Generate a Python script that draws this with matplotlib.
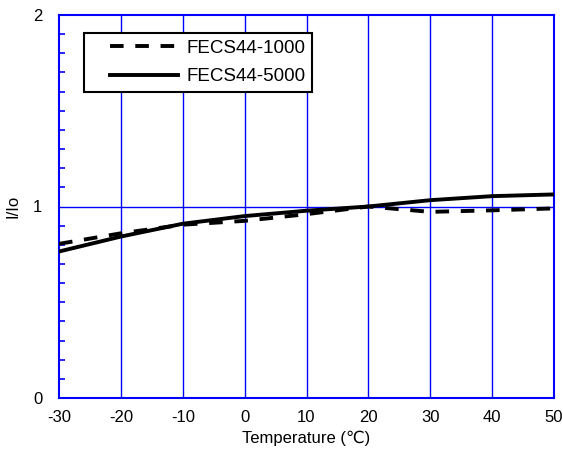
import matplotlib
matplotlib.use("Agg")
import matplotlib.pyplot as plt
from matplotlib.ticker import MultipleLocator
from matplotlib.legend_handler import HandlerLine2D
from matplotlib.lines import Line2D

plt.rcParams['font.family'] = ['Liberation Sans', 'DejaVu Sans']
plt.rcParams['axes.unicode_minus'] = False

temps = [-30, -20, -10, 0, 10, 20, 30, 40, 50]
fecs1000 = [0.805, 0.86, 0.905, 0.925, 0.96, 1.0, 0.972, 0.98, 0.99]
fecs5000 = [0.765, 0.843, 0.91, 0.95, 0.978, 1.0, 1.033, 1.054, 1.063]
xticks = [-30, -20, -10, 0, 10, 20, 30, 40, 50]
yticks = [0, 1, 2]

fig = plt.figure(figsize=(5.63, 4.55), dpi=100)
ax = fig.add_axes([59/563, 1-398/455, (554-59)/563, (398-15)/455])

blue = '#0000ff'
for x in xticks[1:-1]:
    ax.axvline(x, color=blue, lw=1.0, zorder=1)
ax.axhline(1, color=blue, lw=1.0, zorder=1)

ax.plot(temps, fecs1000, color='black', lw=2.8, ls=(0, (3.5, 3.0)), label='FECS44-1000', zorder=3)
ax.plot(temps, fecs5000, color='black', lw=2.8, ls='-', label='FECS44-5000', zorder=3)

ax.set_xlim(-30, 50)
ax.set_ylim(0, 2)
ax.set_xticks(xticks)
ax.set_yticks(yticks)
ax.yaxis.set_minor_locator(MultipleLocator(0.1))
ax.tick_params(axis='x', which='both', length=0, labelsize=12, pad=9)
ax.tick_params(axis='y', which='major', length=0, labelsize=12, pad=12)
ax.tick_params(axis='y', which='minor', direction='in', length=4, color=blue, width=1.2)
for s in ax.spines.values():
    s.set_color(blue)
    s.set_linewidth(1.5)

ax.set_xlabel('Temperature (\u2103)', fontsize=12, labelpad=4)
ax.set_ylabel('I/Io', fontsize=12, labelpad=9)

leg = ax.legend(loc='upper left', bbox_to_anchor=((84-59)/495, 1-18/383), frameon=True, fancybox=False,
                edgecolor='black', fontsize=13.5, handlelength=4.67, handletextpad=0.43,
                borderpad=0.36, labelspacing=0.61, borderaxespad=0,
                handler_map={Line2D: HandlerLine2D(xpad=1.0)})
leg.get_frame().set_linewidth(1.5)
leg.get_frame().set_alpha(1)

fig.savefig('out.png', dpi=100)
